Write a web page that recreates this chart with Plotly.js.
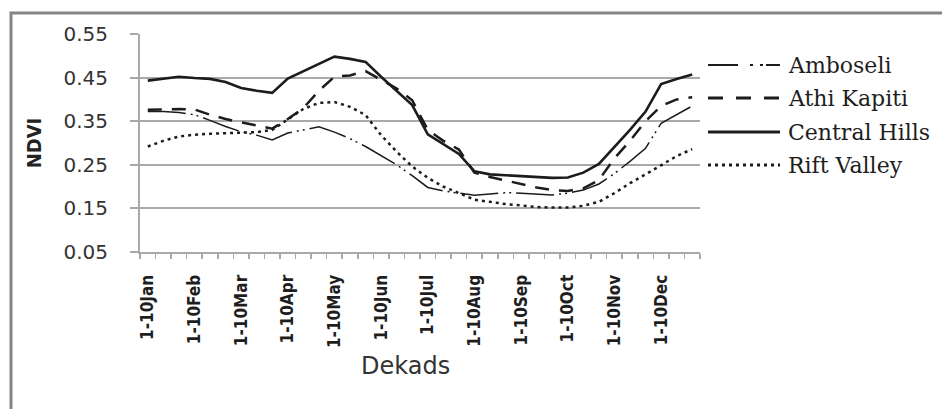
<!DOCTYPE html>
<html><head><meta charset="utf-8">
<script src="https://cdn.plot.ly/plotly-3.0.1.min.js"></script>
<style>html,body{margin:0;padding:0;background:#fff}#chart{width:942px;height:409px}</style>
</head><body><div id="chart"></div>
<script>
// ---- data ----
const dekads = [
  "1-10Jan","11-20Jan","21-31Jan","1-10Feb","11-20Feb","21-28Feb",
  "1-10Mar","11-20Mar","21-31Mar","1-10Apr","11-20Apr","21-30Apr",
  "1-10May","11-20May","21-31May","1-10Jun","11-20Jun","21-30Jun",
  "1-10Jul","11-20Jul","21-31Jul","1-10Aug","11-20Aug","21-31Aug",
  "1-10Sep","11-20Sep","21-30Sep","1-10Oct","11-20Oct","21-31Oct",
  "1-10Nov","11-20Nov","21-30Nov","1-10Dec","11-20Dec","21-31Dec"
];
const amboseli = [0.372,0.372,0.370,0.365,0.352,0.338,0.326,0.318,0.307,0.323,0.330,0.337,
                  0.325,0.310,0.292,0.270,0.250,0.225,0.198,0.190,0.185,0.180,0.183,0.186,
                  0.185,0.183,0.181,0.185,0.192,0.206,0.230,0.258,0.288,0.345,0.365,0.385];
const athiKapiti = [0.376,0.377,0.378,0.377,0.365,0.355,0.347,0.340,0.333,0.355,0.380,0.420,
                    0.452,0.455,0.465,0.445,0.425,0.398,0.330,0.305,0.285,0.232,0.222,0.214,
                    0.206,0.198,0.192,0.190,0.196,0.215,0.265,0.305,0.350,0.385,0.400,0.405];
const centralHills = [0.443,0.447,0.452,0.449,0.447,0.440,0.426,0.420,0.415,0.448,0.465,0.482,
                      0.498,0.493,0.486,0.452,0.420,0.387,0.320,0.298,0.275,0.235,0.228,0.226,
                      0.224,0.222,0.220,0.221,0.232,0.252,0.290,0.330,0.372,0.435,0.447,0.457];
const riftValley = [0.292,0.305,0.315,0.319,0.321,0.322,0.323,0.325,0.330,0.355,0.378,0.392,
                    0.394,0.383,0.364,0.318,0.280,0.246,0.220,0.200,0.185,0.170,0.165,0.160,
                    0.157,0.153,0.152,0.152,0.156,0.165,0.185,0.208,0.228,0.250,0.270,0.286];
const seriesNames = ["Amboseli","Athi Kapiti","Central Hills","Rift Valley"];
const yTicks = [0.05,0.15,0.25,0.35,0.45,0.55];
const xTitle = "Dekads";
const yTitle = "NDVI";

// ---- styles ----
const seriesValues = [amboseli, athiKapiti, centralHills, riftValley];
const styles = [
  {width:1.5, dash:"38px,5px,2px,4px,2px,5px", legendDash:"30px,12px,3px,7px,3px,3px"},
  {width:2.5, dash:"14px,10px", legendDash:"15px,13px"},
  {width:2.6, dash:"solid", legendDash:"solid"},
  {width:2.5, dash:"3px,4px", legendDash:"3px,4px"}
];
const ink = "#1c1c1c";
const gridColor = "#a9a9a9";

// plot geometry in pixels
const L = 140, T = 34, W = 560, H = 218;
const px2x = px => (px - L) / W;
const py2y = py => (T + H - py) / H;

const traces = seriesValues.map((vals, i) => ({
  type: "scatter", mode: "lines", x: dekads, y: vals, name: seriesNames[i],
  line: {color: ink, width: styles[i].width, dash: styles[i].dash},
  showlegend: false, hoverinfo: "x+y+name"
}));

// custom legend (long line samples like the original)
const legendRows = [65, 98, 132, 165];
const shapes = [];
const annotations = [];
seriesNames.forEach((nm, i) => {
  shapes.push({type:"line", xref:"paper", yref:"paper",
    x0:px2x(708), x1:px2x(780), y0:py2y(legendRows[i]), y1:py2y(legendRows[i]),
    line:{color:ink, width:styles[i].width + 0.4, dash:styles[i].legendDash}});
  annotations.push({xref:"paper", yref:"paper", x:px2x(786), y:py2y(legendRows[i]),
    xanchor:"left", yanchor:"middle", showarrow:false, text:nm,
    font:{family:"DejaVu Serif, Liberation Serif, serif", size:22, color:"#1e1e1e"}});
});
// x-axis title (sits slightly left of the plot centre in the original)
annotations.push({xref:"paper", yref:"paper", x:px2x(405), y:py2y(366),
  xanchor:"center", yanchor:"middle", showarrow:false, text:xTitle,
  font:{family:"DejaVu Sans, Verdana, sans-serif", size:24, color:"#333"}});
// outer frame
shapes.push({type:"rect", xref:"paper", yref:"paper",
  x0:px2x(11), x1:px2x(975), y0:py2y(440), y1:py2y(13),
  line:{color:"#858585", width:3}, fillcolor:"rgba(0,0,0,0)"});

const layout = {
  width: 942, height: 409,
  margin: {l: L, r: 942 - L - W, t: T, b: 409 - T - H, pad: 0},
  paper_bgcolor: "#fff", plot_bgcolor: "#fff",
  showlegend: false,
  xaxis: {
    type: "category", range: [-0.5, dekads.length - 0.5],
    tickmode: "array", tickvals: dekads,
    ticktext: dekads.map(d => d.startsWith("1-10") ? d : ""),
    tickson: "boundaries", ticks: "outside", ticklen: 5, tickwidth: 1.5, tickcolor: gridColor,
    tickangle: -90, ticklabelstandoff: 14,
    tickfont: {family: "DejaVu Sans Condensed, Liberation Sans Narrow, sans-serif", size: 17, weight: "bold", color: "#1e1e1e"},
    showgrid: false, zeroline: false,
    showline: true, linecolor: gridColor, linewidth: 2,
    automargin: false, fixedrange: true
  },
  yaxis: {
    range: [yTicks[0], yTicks[yTicks.length - 1]],
    tickmode: "array", tickvals: yTicks, ticktext: yTicks.map(v => v.toFixed(2)),
    ticks: "outside", ticklen: 8, tickwidth: 2, tickcolor: gridColor,
    ticklabelstandoff: 18,
    tickfont: {family: "DejaVu Sans, Verdana, sans-serif", size: 20, color: "#333"},
    showgrid: true, gridcolor: gridColor, gridwidth: 2,
    zeroline: false, showline: true, linecolor: gridColor, linewidth: 2,
    title: {text: yTitle, standoff: 16, font: {family: "DejaVu Sans Condensed, DejaVu Sans, sans-serif", size: 20, weight: "bold", color: "#222"}},
    automargin: false, fixedrange: true
  },
  shapes: shapes,
  annotations: annotations
};

Plotly.newPlot("chart", traces, layout, {displayModeBar: false, staticPlot: true});
</script>
</body></html>
